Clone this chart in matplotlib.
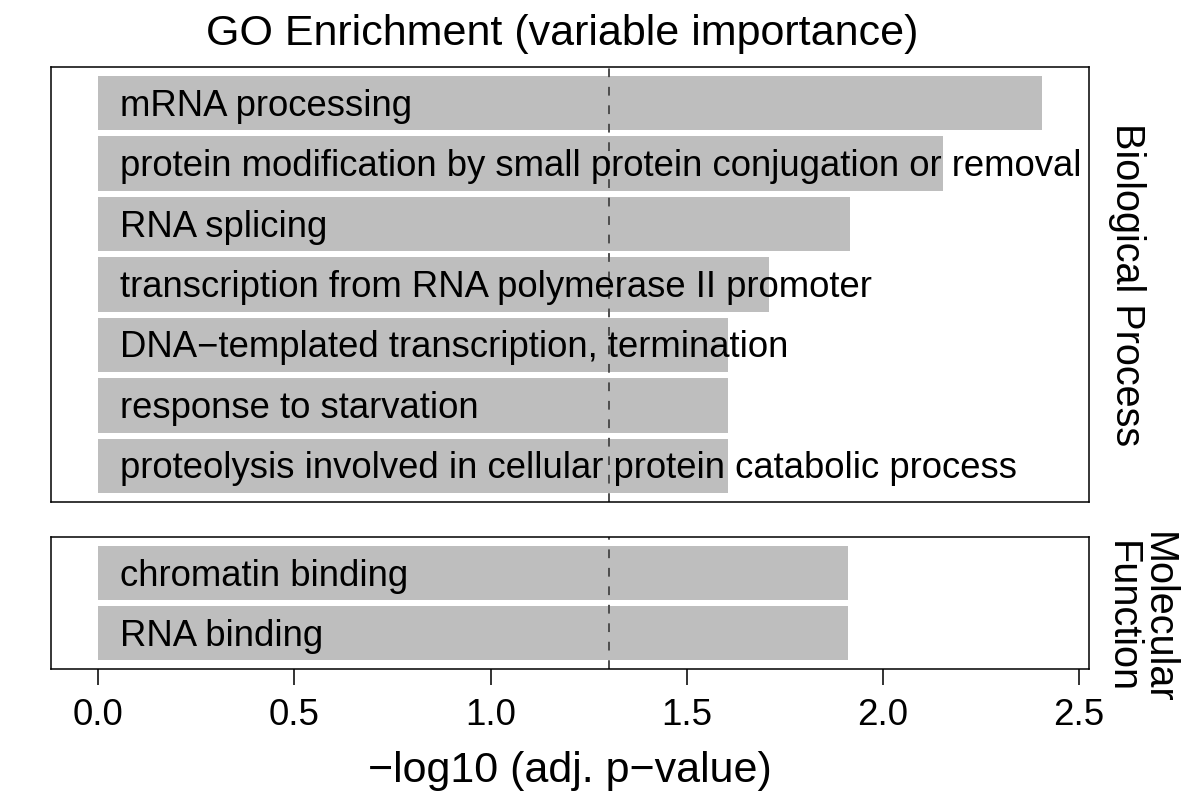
import matplotlib
matplotlib.use('Agg')
import matplotlib.pyplot as plt

plt.rcParams['font.family'] = ['Liberation Sans', 'DejaVu Sans']

# GO terms per ontology, top to bottom, with -log10 adjusted p-values
bp_terms = [
    'mRNA processing',
    'protein modification by small protein conjugation or removal',
    'RNA splicing',
    'transcription from RNA polymerase II promoter',
    'DNA\u2212templated transcription, termination',
    'response to starvation',
    'proteolysis involved in cellular protein catabolic process',
]
bp_values = [2.405, 2.152, 1.917, 1.709, 1.604, 1.604, 1.604]

mf_terms = ['chromatin binding', 'RNA binding']
mf_values = [1.912, 1.912]

panels = ['Biological Process', 'Molecular\nFunction']
cutoff = 1.301  # -log10(0.05)

xticks = [0.0, 0.5, 1.0, 1.5, 2.0, 2.5]
xticklabels = ['0.0', '0.5', '1.0', '1.5', '2.0', '2.5']

W, H = 1183, 801
fig = plt.figure(figsize=(W / 100, H / 100), dpi=100)

# panel boxes in pixels: left, top, right, bottom
ax1 = fig.add_axes([51 / W, 1 - 502 / H, (1089 - 51) / W, (502 - 67) / H])
ax2 = fig.add_axes([51 / W, 1 - 669 / H, (1089 - 51) / W, (669 - 537) / H])

xmax = max(bp_values + mf_values)
xlim = (-0.05 * xmax, 1.05 * xmax)

# strip label position (axes fraction) for each panel
strip_pos = [(1.0366, 0.5), (1.049, 0.39)]

for i, (ax, terms, values) in enumerate([(ax1, bp_terms, bp_values),
                                         (ax2, mf_terms, mf_values)]):
    ypos = list(range(len(terms)))
    ax.barh(ypos, values, height=0.9, color='#BEBEBE', edgecolor='none', zorder=1)
    for y, t in zip(ypos, terms):
        ax.text(0.055, y + 0.05, t, fontsize=26.25, va='center', ha='left',
                color='black', zorder=3)
    ax.axvline(cutoff, color='#4D4D4D', linestyle=(0, (4.5, 5)), linewidth=1.4, zorder=2)
    ax.set_ylim(len(terms) - 0.4, -0.6)
    ax.set_xlim(xlim)
    ax.set_yticks([])
    for s in ax.spines.values():
        s.set_linewidth(1.1)
        s.set_color('black')
    sx, sy = strip_pos[i]
    ax.text(sx, sy, panels[i], transform=ax.transAxes, rotation=-90,
            fontsize=28.5, ha='center', va='center', multialignment='center',
            linespacing=0.95)

ax1.set_xticks([])
ax2.set_xticks(xticks)
ax2.set_xticklabels(xticklabels, fontsize=26.5)
ax2.tick_params(axis='x', length=11.5, width=1.4, color='#333333', pad=9.5)
ax2.set_xlabel('\u2212log10 (adj. p\u2212value)', fontsize=31, labelpad=13)

fig.text(562 / W, 1 - 34 / H, 'GO Enrichment (variable importance)',
         fontsize=31, ha='center', va='center')

fig.savefig('out.png', dpi=100)
